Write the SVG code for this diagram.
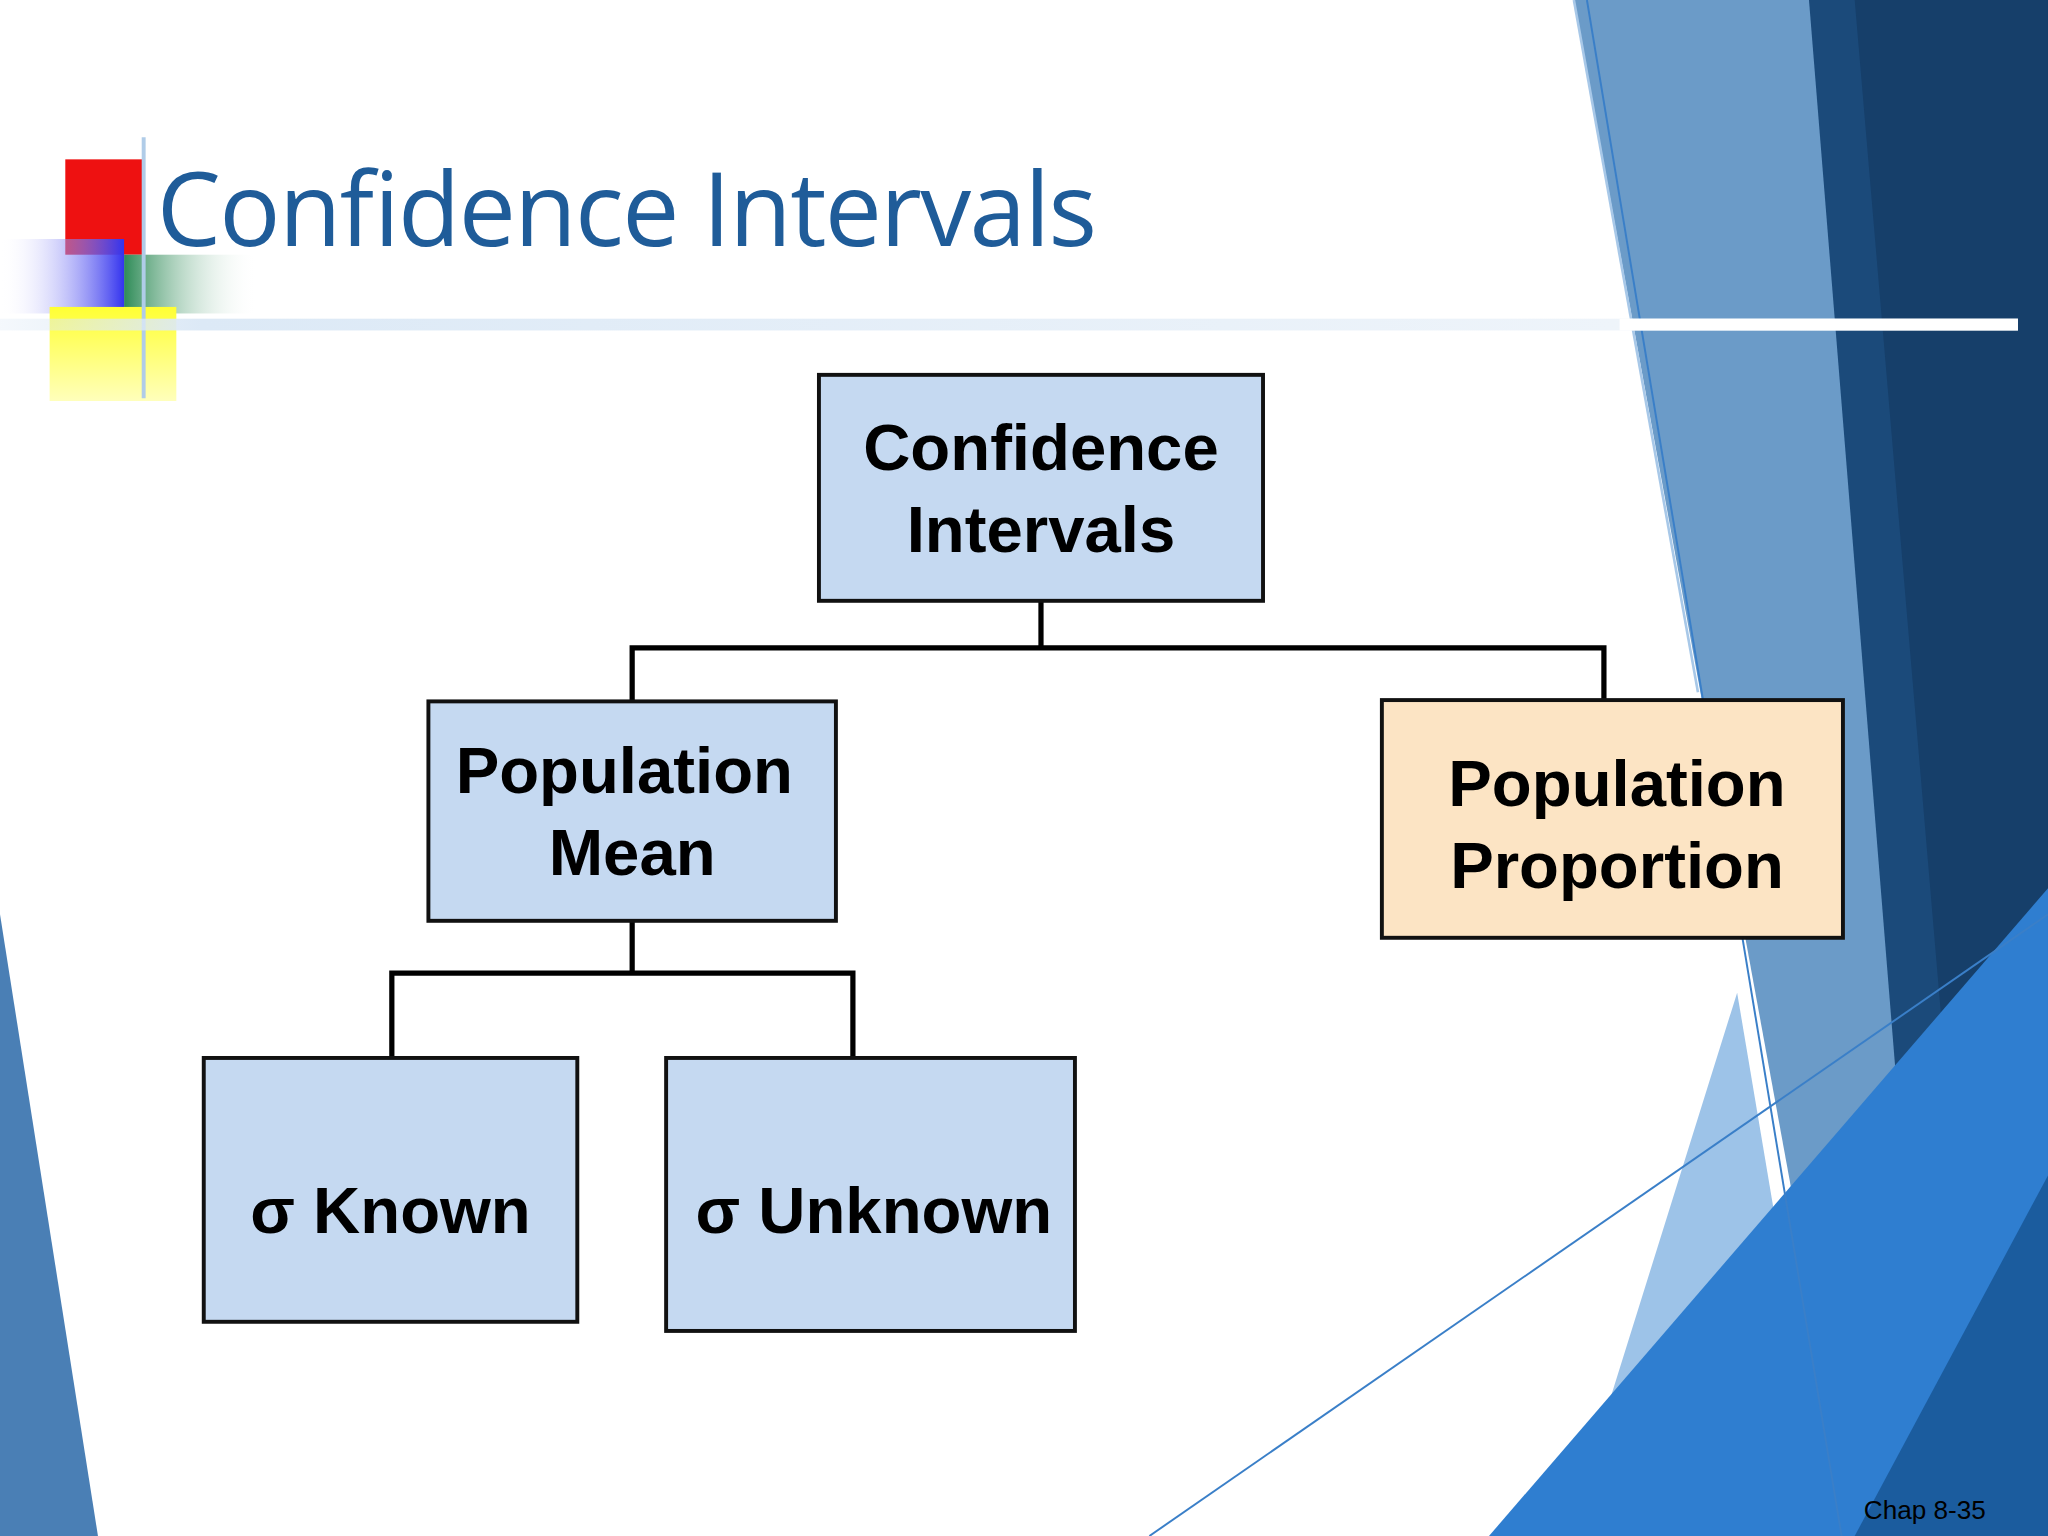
<svg xmlns="http://www.w3.org/2000/svg" width="2048" height="1536" viewBox="0 0 2048 1536">
<defs>
<style>
.box{stroke:#111;stroke-width:3}
.blue{fill:#C5D9F1}
.tan{fill:#FCE4C4}
.lbl{font-family:"Liberation Sans",Arial,sans-serif;font-weight:bold;font-size:50px;fill:#000;text-anchor:middle}
.con{stroke:#000;stroke-width:4;fill:none}
</style>
<linearGradient id="hl" x1="0" x2="1"><stop offset="0" stop-color="#DCE9F6" stop-opacity="0.3"/><stop offset="0.1" stop-color="#DCE9F6"/><stop offset="0.8" stop-color="#EEF4FA"/><stop offset="1" stop-color="#fff"/></linearGradient>
<linearGradient id="bg" x1="1" x2="0"><stop offset="0" stop-color="#3333EE"/><stop offset="1" stop-color="#fff" stop-opacity="0"/></linearGradient>
<linearGradient id="gg" x1="0" x2="1"><stop offset="0" stop-color="#2E8B57"/><stop offset="1" stop-color="#fff" stop-opacity="0"/></linearGradient>
<linearGradient id="yg" x1="0" y1="0" x2="0" y2="1"><stop offset="0" stop-color="#FFFF33"/><stop offset="1" stop-color="#FFFFBB"/></linearGradient>
</defs>
<rect width="2048" height="1536" fill="#fff"/>
<g transform="scale(1.30612)">
<g id="background">
<polygon points="1205,0 1568,0 1568,1176 1420,1176" fill="#6B9BC8"/>
<polygon points="1385,0 1568,0 1568,1176 1480,1176" fill="#1B4A7A"/>
<polygon points="1420,0 1568,0 1568,1176 1520,1176" fill="#163F6A"/>
<polygon points="1200,1176 1330,760 1400,1176" fill="#9DC3E8"/>
<polygon points="1140,1176 1568,680 1568,1176" fill="#2F7ED0"/>
<polygon points="1420,1176 1568,900 1568,1176" fill="#1B5C9E"/>
<polygon points="0,700 75,1176 0,1176" fill="#4A7FB5"/>
<line x1="1205" y1="0" x2="1300" y2="530" stroke="#A8C8E8" stroke-width="2"/>
<line x1="1215" y1="0" x2="1410" y2="1176" stroke="#3A7FC8" stroke-width="1.5"/>
<line x1="880" y1="1176" x2="1568" y2="700" stroke="#3A7FC8" stroke-width="1.5"/>
<rect x="50" y="122" width="60" height="73" fill="#EE1111"/>
<rect x="95" y="195" width="102" height="45" fill="url(#gg)"/>
<rect x="0" y="183" width="95" height="57" fill="url(#bg)"/>
<rect x="38" y="235" width="97" height="72" fill="url(#yg)"/>
<line x1="110" y1="105" x2="110" y2="305" stroke="#B0CCE8" stroke-width="3"/>
<rect x="0" y="244" width="1545" height="9" fill="url(#hl)"/>
<rect x="1240" y="244" width="305" height="9" fill="#fff"/>
<text x="120" y="188" font-family="'Open Sans','DejaVu Sans',sans-serif" font-size="78" fill="#1F5C99" textLength="720">Confidence Intervals</text>
<text x="1427" y="1163" font-family="'Liberation Sans',Arial,sans-serif" font-size="20" fill="#000">Chap 8-35</text>
</g>
<g id="connectors">
<polyline class="con" points="797,460 797,496"/>
<polyline class="con" points="484,537 484,496 1228,496 1228,536"/>
<polyline class="con" points="484,705 484,745"/>
<polyline class="con" points="300,810 300,745 653,745 653,810"/>
</g>
<g id="ci"><rect class="box blue" x="627" y="287" width="340" height="173"/><text class="lbl" x="797" y="360">Confidence</text><text class="lbl" x="797" y="423">Intervals</text></g>
<g id="pm"><rect class="box blue" x="328" y="537" width="312" height="168"/><text class="lbl" x="478" y="607">Population</text><text class="lbl" x="484" y="670">Mean</text></g>
<g id="pp"><rect class="box tan" x="1058" y="536" width="353" height="182"/><text class="lbl" x="1238" y="617">Population</text><text class="lbl" x="1238" y="680">Proportion</text></g>
<g id="known"><rect class="box blue" x="156" y="810" width="286" height="202"/><text class="lbl" x="299" y="944">σ Known</text></g>
<g id="unknown"><rect class="box blue" x="510" y="810" width="313" height="209"/><text class="lbl" x="669" y="944">σ Unknown</text></g>
</g>
</svg>
